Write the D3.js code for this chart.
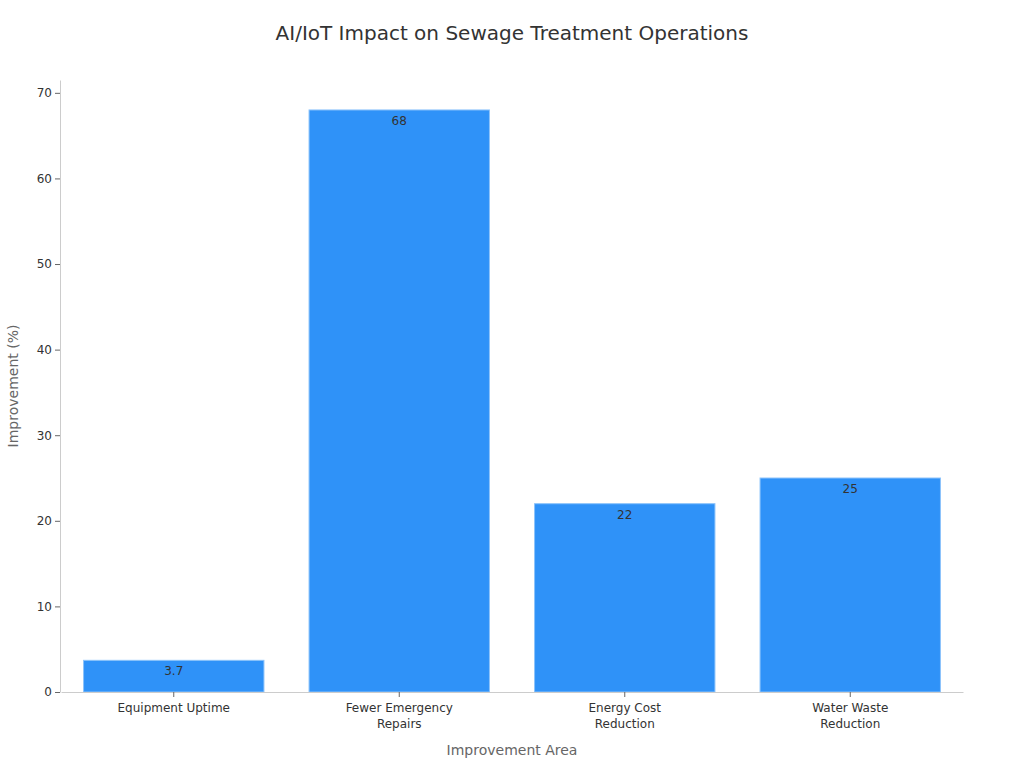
<!DOCTYPE html>
<html>
<head>
<meta charset="utf-8">
<script src="https://cdn.jsdelivr.net/npm/d3@7"></script>
<style>
  body { margin: 0; background: #fff; font-family: "DejaVu Sans", sans-serif; }
  .tick text { font-size: 12px; fill: #333; font-family: "DejaVu Sans", sans-serif; }
</style>
</head>
<body>
<script>
// data
let categories = ["Equipment Uptime", "Fewer Emergency\nRepairs", "Energy Cost\nReduction", "Water Waste\nReduction"];
let values = [3.7, 68, 22, 25];
let labels = ["3.7", "68", "22", "25"];
let yTicks = [0, 10, 20, 30, 40, 50, 60, 70];

let width = 1024, height = 768;
let margin = { top: 80, right: 61, bottom: 76, left: 61 };

let svg = d3.select("body").append("svg")
    .attr("width", width)
    .attr("height", height);

let x = d3.scaleBand()
    .domain(categories)
    .range([margin.left, width - margin.right])
    .paddingInner(0.2)
    .paddingOuter(0.1);

let y = d3.scaleLinear()
    .domain([0, 71.5])
    .range([height - margin.bottom, margin.top]);

// title
svg.append("text")
    .attr("x", width / 2)
    .attr("y", 40)
    .attr("text-anchor", "middle")
    .style("font-size", "20px")
    .style("fill", "#333")
    .text("AI/IoT Impact on Sewage Treatment Operations");

// bars
svg.selectAll(".bar")
    .data(values)
    .enter().append("rect")
    .attr("class", "bar")
    .attr("x", (d, i) => x(categories[i]))
    .attr("y", d => y(d))
    .attr("width", x.bandwidth())
    .attr("height", d => y(0) - y(d))
    .style("fill", "#2f92f8")
    .style("stroke", "#8cc3fb")
    .style("stroke-width", 1);

// value labels
svg.selectAll(".val")
    .data(values)
    .enter().append("text")
    .attr("class", "val")
    .attr("x", (d, i) => x(categories[i]) + x.bandwidth() / 2)
    .attr("y", d => y(d) + 15)
    .attr("text-anchor", "middle")
    .style("font-size", "12px")
    .style("fill", "#333")
    .text((d, i) => labels[i]);

// y axis
let yAxis = svg.append("g")
    .attr("transform", "translate(" + (margin.left - 1) + ",0)")
    .call(d3.axisLeft(y).tickValues(yTicks).tickSize(5).tickSizeOuter(0));
yAxis.select(".domain").attr("stroke", "#ccc");
yAxis.selectAll(".tick line").attr("stroke", "#666");

// x axis
let xAxis = svg.append("g")
    .attr("transform", "translate(0," + y(0) + ")")
    .call(d3.axisBottom(x).tickSize(5).tickPadding(6).tickSizeOuter(0));
xAxis.select(".domain").attr("stroke", "#ccc");
xAxis.selectAll(".tick line").attr("stroke", "#666");
xAxis.selectAll(".tick text").each(function (d) {
    let t = d3.select(this);
    let lines = d.split("\n");
    t.text(null);
    lines.forEach((ln, i) => {
        t.append("tspan")
            .attr("x", 0)
            .attr("dy", i === 0 ? "0.71em" : "1.36em")
            .text(ln);
    });
});

// axis titles
svg.append("text")
    .attr("x", (margin.left + width - margin.right) / 2)
    .attr("y", 755)
    .attr("text-anchor", "middle")
    .style("font-size", "14px")
    .style("fill", "#666")
    .text("Improvement Area");

svg.append("text")
    .attr("transform", "translate(18," + (margin.top + height - margin.bottom) / 2 + ") rotate(-90)")
    .attr("text-anchor", "middle")
    .style("font-size", "14px")
    .style("fill", "#666")
    .text("Improvement (%)");
</script>
</body>
</html>
